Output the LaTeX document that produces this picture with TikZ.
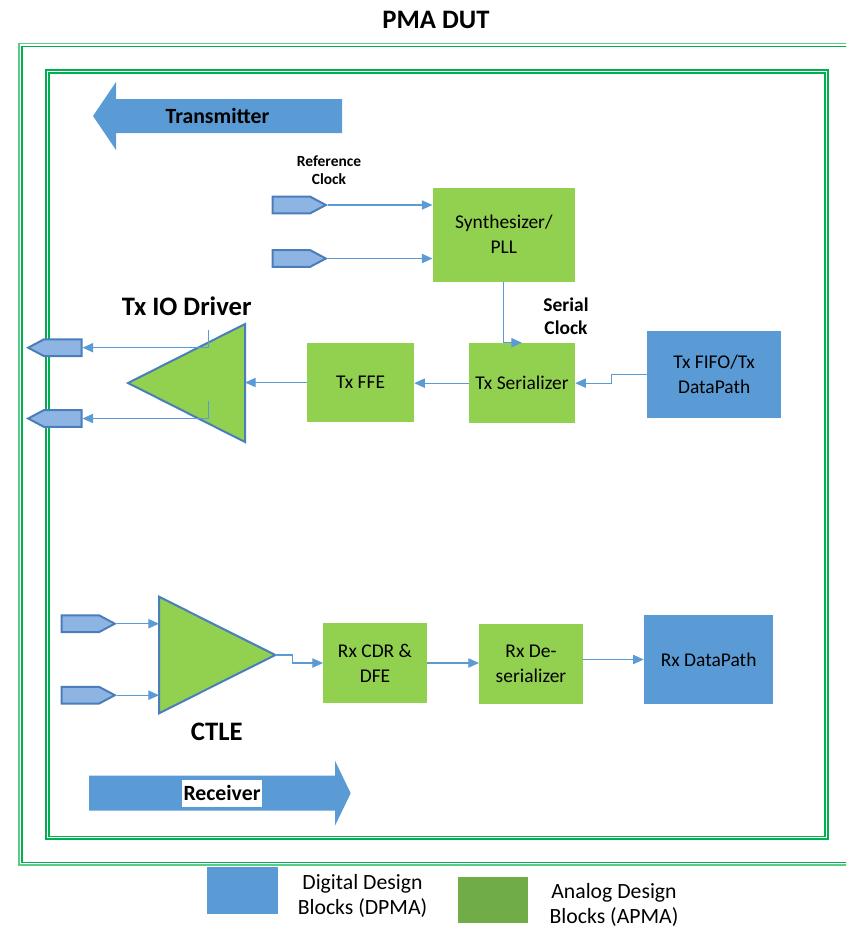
\documentclass[tikz,border=0pt]{standalone}
\usepackage{fontspec}
\setmainfont{Carlito}
\usetikzlibrary{arrows.meta,shapes.symbols,fit,calc}

\definecolor{anagreen}{HTML}{92D050}
\definecolor{digblue}{HTML}{5B9BD5}
\definecolor{portfill}{HTML}{8EB4E3}
\definecolor{portedge}{HTML}{4A7EBB}
\definecolor{wire}{HTML}{5B9BD5}
\definecolor{framelight}{HTML}{5CCB85}
\definecolor{framedark}{HTML}{00B050}
\definecolor{leggreen}{HTML}{70AD47}

\begin{document}
\begin{tikzpicture}[x=0.75pt,y=-0.75pt,
  boxtxt/.style={font=\fontsize{14.6}{18.7}\selectfont, align=center},
  abox/.style={fill=anagreen, draw=none, inner sep=0pt},
  dbox/.style={fill=digblue, draw=none, inner sep=0pt},
  conn/.style={draw=wire, line width=0.8pt, -{Triangle[length=8pt,width=7pt]}},
  port/.style={signal, fill=portfill, draw=portedge, line width=1.5pt,
    minimum width=40pt, minimum height=12.5pt, inner sep=0pt, signal pointer angle=56},
  amp/.style={fill=anagreen, draw=portedge, line width=1.5pt, line join=miter},
  barrow/.style={fill=digblue, draw=none},
  bigbold/.style={font=\bfseries\fontsize{20}{24}\selectfont},
  arrowtxt/.style={font=\bfseries\fontsize{16.3}{19}\selectfont},
  legtxt/.style={font=\fontsize{16.3}{18.5}\selectfont, align=center},
  frameline/.style={line width=1.1pt}
]
\useasboundingbox (0,0) rectangle (846,928);

% outer and inner boundaries, each a pair of thin lines
\begin{scope}
  \clip (0,0) rectangle (846,928);
  \draw[frameline, draw=framelight] (19,43.3) rectangle (880,865.2);
  \draw[frameline, draw=framedark] (22.2,46.3) rectangle (880,862.4);
  \draw[frameline, draw=framedark] (45.8,70.1) rectangle (828,839.2);
  \draw[frameline, draw=framedark] (48.8,73.1) rectangle (825.2,836.4);
\end{scope}

\node[bigbold] (title) at (436,20) {PMA DUT};

% direction arrows
\fill[barrow] (93,116) -- (116,82) -- (116,99) -- (342,99) -- (342,133)
  -- (116,133) -- (116,150) -- cycle;
\node[arrowtxt] (txlbl) at (217.5,116) {Transmitter};
\fill[barrow] (89,775.7) -- (335,775.7) -- (335,760.7) -- (350.7,793.2)
  -- (335,825.7) -- (335,810.7) -- (89,810.7) -- cycle;
\node[arrowtxt, fill=white, inner xsep=1pt, inner ysep=0pt, minimum height=20pt] (rxlbl) at (222,793.3) {Receiver};

% transmit chain blocks
\node[abox, fit={(432.7,187.7) (575,281.7)}] (pll) {};
\node[boxtxt] (plltxt) at (pll.center) {Synthesizer/\\PLL};
\node[abox, fit={(469,343) (575,423.3)}] (ser) {};
\node[boxtxt] (sertxt) at (ser.center) {Tx Serializer};
\node[abox, fit={(307.3,342.7) (414,422.3)}] (ffe) {};
\node[boxtxt] (ffetxt) at (ffe.center) {Tx FFE};
\node[dbox, fit={(647.3,330.7) (781,418.3)}] (fifo) {};
\node[boxtxt] (fifotxt) at (fifo.center) {Tx FIFO/Tx\\DataPath};

\node[font=\bfseries\fontsize{11.6}{13.7}\selectfont, align=center] (reflbl) at (329,170.5) {Reference\\Clock};
\node[font=\bfseries\fontsize{14.6}{17}\selectfont, align=center] (serlbl) at (566,316.5) {Serial\\Clock};

% reference clock pins
\node[port, signal to=east, anchor=west] (ref1) at (271.5,205) {};
\node[port, signal to=east, anchor=west] (ref2) at (271.5,258.5) {};

% Tx IO driver
\draw[amp] (128,383) -- (245,324) -- (245,442) -- cycle;
\coordinate (drvin) at (245,383);
\coordinate (drvtap1) at (208.3,330);
\coordinate (drvtap2) at (208.3,400.7);
\node[bigbold] (drvlbl) at (186.7,306.7) {Tx IO Driver};

% Tx output pins
\node[port, signal to=west, anchor=east] (out1) at (82.5,347.7) {};
\node[port, signal to=west, anchor=east] (out2) at (82.5,418.5) {};

% receive chain
\draw[amp] (159,596.7) -- (275.3,655) -- (159,713.3) -- cycle;
\coordinate (ctlein) at (159,655);
\coordinate (ctleout) at (275.3,655);
\node[bigbold] (ctlelbl) at (216.7,731.7) {CTLE};

\node[port, signal to=east, anchor=west] (in1) at (60.5,623.7) {};
\node[port, signal to=east, anchor=west] (in2) at (60.5,695.2) {};

\node[abox, fit={(323.3,623.3) (426.7,702.7)}] (cdr) {};
\node[boxtxt] (cdrtxt) at (cdr.center) {Rx CDR \&\\DFE};
\node[abox, fit={(479.3,624.3) (582.7,704)}] (des) {};
\node[boxtxt] (destxt) at (des.center) {Rx De-\\serializer};
\node[dbox, fit={(644,615) (773.3,704)}] (rxdp) {};
\node[boxtxt] (rxdptxt) at (rxdp.center) {Rx DataPath};

% connectors
\draw[conn] (ref1.east) -- (ref1.east -| pll.west);
\draw[conn] (ref2.east) -- (ref2.east -| pll.west);
\draw[conn] (pll.south) |- (ser.north);
\draw[conn] (fifo.west) -- ++(-36,0) |- (ser.east);
\draw[conn] (ser.west) -- (ser.west -| ffe.east);
\draw[conn] (ffe.west) -- (ffe.west -| drvin);
\draw[conn] (drvtap1) |- (out1.east);
\draw[conn] (drvtap2) |- (out2.east);
\draw[conn] (in1.east) -- (in1.east -| ctlein);
\draw[conn] (in2.east) -- (in2.east -| ctlein);
\draw[conn] (ctleout) -- ++(17.5,0) |- (cdr.west);
\draw[conn] (cdr.east) -- (cdr.east -| des.west);
\draw[conn] (des.east |- rxdp.west) -- (rxdp.west);

% legend
\node[fill=digblue, inner sep=0pt, fit={(206.7,867.3) (278.3,914)}] (legd) {};
\node[legtxt] (legdtxt) at (362.5,896) {Digital Design\\Blocks (DPMA)};
\node[fill=leggreen, inner sep=0pt, fit={(457.7,876.7) (528.3,922.7)}] (lega) {};
\node[legtxt] (legatxt) at (614,905) {Analog Design\\Blocks (APMA)};
\end{tikzpicture}
\end{document}
